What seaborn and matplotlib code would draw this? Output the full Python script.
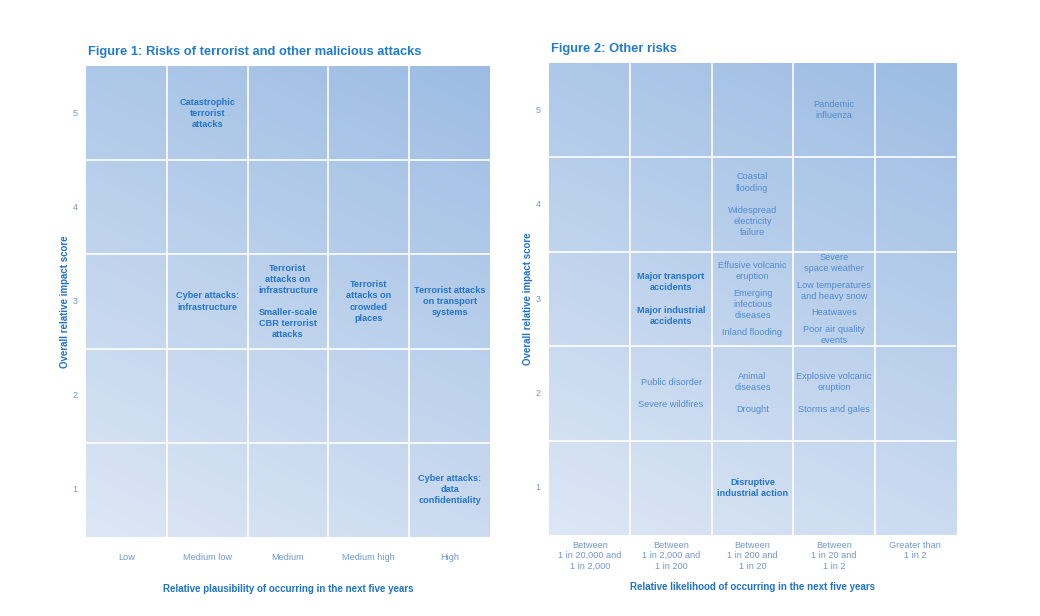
import numpy as np
import matplotlib
matplotlib.use("Agg")
import matplotlib.pyplot as plt
from matplotlib.colors import LinearSegmentedColormap
import seaborn as sns

sns.set_theme(style="white")
plt.rcParams["font.family"] = ["Liberation Sans", "DejaVu Sans"]

# ---------------- data ----------------
impact_scores = [1, 2, 3, 4, 5]

fig1_title = "Figure 1: Risks of terrorist and other malicious attacks"
fig1_x_labels = ["Low", "Medium low", "Medium", "Medium high", "High"]
fig1_xlabel = "Relative plausibility of occurring in the next five years"
fig1_cols = [2, 2, 3, 4, 5, 5]
fig1_rows = [5, 3, 3, 3, 3, 1]
fig1_texts = [
    ["Catastrophic\nterrorist\nattacks"],
    ["Cyber attacks:\ninfrastructure"],
    ["Terrorist\nattacks on\ninfrastructure", "Smaller-scale\nCBR terrorist\nattacks"],
    ["Terrorist\nattacks on\ncrowded\nplaces"],
    ["Terrorist attacks\non transport\nsystems"],
    ["Cyber attacks:\ndata\nconfidentiality"],
]
fig1_bold = [True, True, True, True, True, True]

fig2_title = "Figure 2: Other risks"
fig2_x_labels = [
    "Between\n1 in 20,000 and\n1 in 2,000",
    "Between\n1 in 2,000 and\n1 in 200",
    "Between\n1 in 200 and\n1 in 20",
    "Between\n1 in 20 and\n1 in 2",
    "Greater than\n1 in 2",
]
fig2_xlabel = "Relative likelihood of occurring in the next five years"
fig2_cols = [4, 3, 2, 3, 4, 2, 3, 4, 3]
fig2_rows = [5, 4, 3, 3, 3, 2, 2, 2, 1]
fig2_texts = [
    ["Pandemic\ninfluenza"],
    ["Coastal\nflooding", "Widespread\nelectricity\nfailure"],
    ["Major transport\naccidents", "Major industrial\naccidents"],
    ["Effusive volcanic\neruption", "Emerging\ninfectious\ndiseases", "Inland flooding"],
    ["Severe\nspace weather", "Low temperatures\nand heavy snow", "Heatwaves", "Poor air quality\nevents"],
    ["Public disorder", "Severe wildfires"],
    ["Animal\ndiseases", "Drought"],
    ["Explosive volcanic\neruption", "Storms and gales"],
    ["Disruptive\nindustrial action"],
]
fig2_bold = [False, False, True, False, False, False, False, False, True]

ylabel = "Overall relative impact score"

# ---------------- style ----------------
TITLE_C = "#1f7bd0"
LABEL_C = "#1f72c8"
TICK_C = "#6f97d3"
BOLD_C = "#2475c9"
REG_C = "#4f8bd3"

bg_cmap = LinearSegmentedColormap.from_list("bg", ["#dde7f5", "#9cbce3"])

W, H = 1040, 616
fig = plt.figure(figsize=(W / 100, H / 100), dpi=100)


def px_axes(x0, y0, x1, y1):
    return fig.add_axes([x0 / W, 1 - y1 / H, (x1 - x0) / W, (y1 - y0) / H])


def draw_panel(ax, title, xlabels, xlabel, cols, rows, texts, bolds,
               tick_pad, tick_va, title_y, xlabel_y, ylabel_x):
    n = len(xlabels)
    gx, gy = np.meshgrid(np.linspace(0, 1, 300), np.linspace(1, 0, 300))
    grad = 0.72 * gy + 0.28 * gx
    ax.imshow(grad, cmap=bg_cmap, vmin=0, vmax=1, aspect="auto",
              extent=(0.5, n + 0.5, 0.5, len(impact_scores) + 0.5),
              interpolation="bilinear", zorder=0)
    for k in range(1, n):
        ax.axvline(k + 0.5, color="white", lw=1.2, zorder=1)
    for k in range(1, len(impact_scores)):
        ax.axhline(k + 0.5, color="white", lw=1.2, zorder=1)
    ax.set_xlim(0.5, n + 0.5)
    ax.set_ylim(0.5, len(impact_scores) + 0.5)
    ax.set_xticks([])
    ax.set_yticks([])
    for s in ax.spines.values():
        s.set_visible(False)

    trans = ax.get_yaxis_transform()
    for v in impact_scores:
        ax.annotate(str(v), xy=(0, v), xycoords=trans, xytext=(-6, 0),
                    textcoords="offset points", ha="right", va="center",
                    fontsize=6.5, color=TICK_C)
    xtrans = ax.get_xaxis_transform()
    for i, lab in enumerate(xlabels):
        ax.annotate(lab, xy=(i + 1, 0), xycoords=xtrans, xytext=(0, -tick_pad),
                    textcoords="offset points", ha="center", va=tick_va,
                    fontsize=6.6, color=TICK_C, linespacing=1.22)

    ax.text(0.005, title_y, title, transform=ax.transAxes, ha="left",
            va="bottom", fontsize=9.3, fontweight="bold", color=TITLE_C)
    ax.text(0.5, xlabel_y, xlabel, transform=ax.transAxes, ha="center",
            va="center", fontsize=7.0, fontweight="bold", color=LABEL_C)
    ax.text(ylabel_x, 0.5, ylabel, transform=ax.transAxes, ha="center",
            va="center", rotation=90, fontsize=7.0, fontweight="bold",
            color=LABEL_C)

    lh = 0.117
    for c, r, groups, b in zip(cols, rows, texts, bolds):
        extra = lh if len(groups) <= 2 else 0.5 * lh
        lines = []
        offs = []
        y = 0.0
        for gi, g in enumerate(groups):
            if gi > 0:
                y += extra
            for li, line in enumerate(g.split("\n")):
                if lines:
                    y += lh
                lines.append(line)
                offs.append(y)
        span = offs[-1]
        for line, o in zip(lines, offs):
            ax.text(c, r + span / 2 - o, line, ha="center", va="center",
                    fontsize=6.6, fontweight="bold" if b else "normal",
                    color=BOLD_C if b else REG_C, zorder=3)


ax1 = px_axes(86, 66, 490, 537)
draw_panel(ax1, fig1_title, fig1_x_labels, fig1_xlabel, fig1_cols, fig1_rows,
           fig1_texts, fig1_bold, tick_pad=15, tick_va="center",
           title_y=1.018, xlabel_y=-0.111, ylabel_x=-0.052)

ax2 = px_axes(549, 63, 956, 535)
draw_panel(ax2, fig2_title, fig2_x_labels, fig2_xlabel, fig2_cols, fig2_rows,
           fig2_texts, fig2_bold, tick_pad=4, tick_va="top",
           title_y=1.018, xlabel_y=-0.110, ylabel_x=-0.051)

fig.savefig("out.png", dpi=100, facecolor="white")
